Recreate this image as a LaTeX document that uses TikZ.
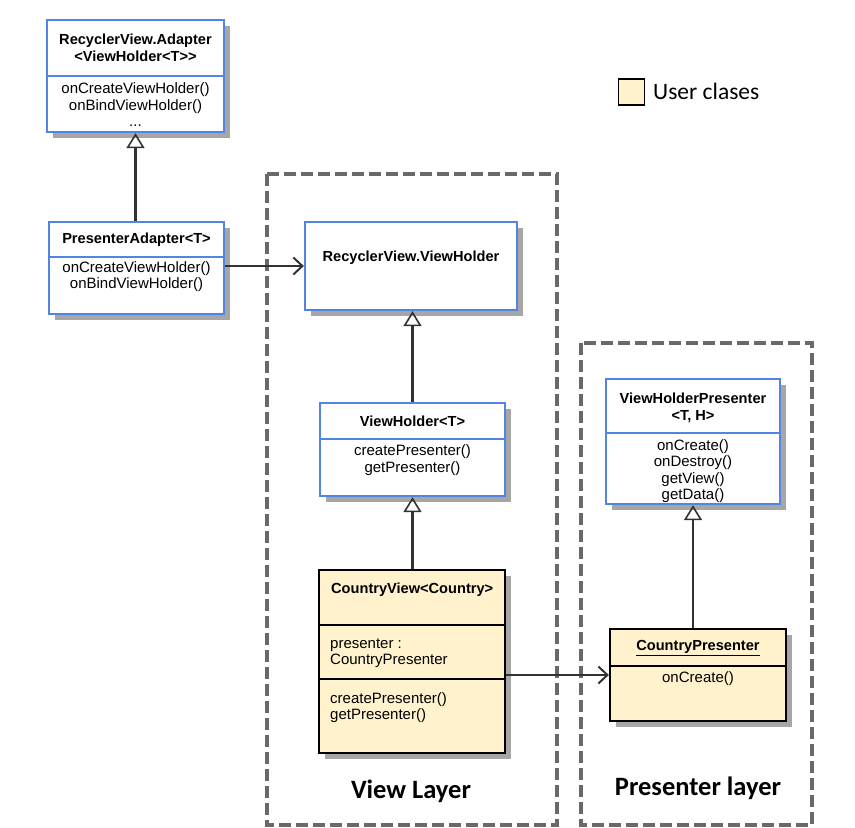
\documentclass[tikz,border=0pt]{standalone}
\usepackage{fontspec}
\setmainfont{Liberation Sans}
\newfontfamily\calibri{Carlito}
\usetikzlibrary{arrows.meta, shadows}
\definecolor{umlblue}{RGB}{82,132,228}
\definecolor{userfill}{RGB}{255,242,204}
\definecolor{framegray}{RGB}{105,105,105}
\definecolor{linegray}{RGB}{50,50,50}

\begin{document}
\begin{tikzpicture}
  [x=1pt, y=-1pt,
   cls/.style={rectangle, draw=umlblue, line width=2.3pt, fill=white, inner sep=0pt,
     drop shadow={shadow xshift=6pt, shadow yshift=-6pt, fill=black!35, opacity=1}},
   user/.style={cls, draw=black},
   sep/.style={draw=umlblue, line width=2.3pt},
   usersep/.style={sep, draw=black},
   title/.style={font=\fontsize{14.6}{16.5}\selectfont\bfseries, align=center, inner sep=0pt},
   ops/.style={font=\fontsize{15}{16.5}\selectfont, align=center, inner sep=0pt},
   layer/.style={draw=framegray, line width=3.5pt, dash pattern=on 12pt off 5pt},
   layername/.style={font=\calibri\fontsize{26.5}{30}\selectfont\bfseries},
   inherit/.style={draw=linegray, line width=2.3pt,
     -{Triangle[open, length=15pt, width=18pt, line width=1.6pt]}},
   assoc/.style={draw=linegray, line width=2.3pt,
     -{Straight Barb[length=9pt, width=17pt, line width=2pt]}}]
  \useasboundingbox (0,0) rectangle (855,828);

  % layers
  \draw[layer] (267,174) rectangle (557,825);
  \draw[layer] (581,343) rectangle (812,825);
  \node (viewLayer) at (411,791) [layername] {View Layer};
  \node (presLayer) at (698,788) [layername] {Presenter layer};

  % legend
  \node (legendBox) at (631.5,92) [draw=black, line width=1.5pt, fill=userfill,
    minimum width=26pt, minimum height=26pt] {};
  \node (legendText) at (653,91) [anchor=west, inner sep=0pt,
    font=\calibri\fontsize{23.5}{28}\selectfont] {User clases};

  % library classes
  \node (adapter) at (135.5,76) [cls, minimum width=177pt, minimum height=112pt] {};
  \node (adapterName) at (135.5,48) [title] {RecyclerView.Adapter\\<ViewHolder<T>\kern0pt>};
  \node (adapterOps) at (135.5,105) [ops] {onCreateViewHolder()\\onBindViewHolder()\\...};

  \node (presAdapter) at (136.5,268) [cls, minimum width=175pt, minimum height=92pt] {};
  \node (presAdapterName) at (136.5,240) [title] {PresenterAdapter<T>};
  \node (presAdapterOps) at (136.5,276.5) [ops] {onCreateViewHolder()\\onBindViewHolder()};

  \node (rvHolder) at (411,266) [cls, minimum width=212pt, minimum height=88pt] {};
  \node (rvHolderName) at (411,258) [title] {RecyclerView.ViewHolder};

  \node (vhT) at (412.5,449.5) [cls, minimum width=185pt, minimum height=93pt] {};
  \node (vhTName) at (412.5,421) [title] {ViewHolder<T>};
  \node (vhTOps) at (412.5,460) [ops] {createPresenter()\\getPresenter()};

  \node (vhPresenter) at (693,441.5) [cls, minimum width=174pt, minimum height=125pt] {};
  \node (vhPresenterName) at (693,408) [title] {ViewHolderPresenter\\<T, H>};
  \node (vhPresenterOps) at (693,471) [ops] {onCreate()\\onDestroy()\\getView()\\getData()};

  % user classes
  \node (countryView) at (412,661.5) [user, fill=userfill, minimum width=186pt, minimum height=183pt] {};
  \node (countryViewName) at (331,590) [title, anchor=west] {CountryView<Country>};
  \node (countryViewAttr) at (330,653) [ops, anchor=west, align=left] {presenter :\\CountryPresenter};
  \node (countryViewOps) at (330,707.5) [ops, anchor=west, align=left] {createPresenter()\\getPresenter()};

  \node (countryPresenter) at (698,675) [user, fill=userfill, minimum width=176pt, minimum height=92pt] {};
  \node (countryPresenterName) at (698,648) [title] {\underline{CountryPresenter}};
  \node (countryPresenterOps) at (698,679) [ops] {onCreate()};

  % compartments
  \foreach \n/\y in {adapter/76, presAdapter/257, vhT/439, vhPresenter/433}
    \draw[sep] (\n.west |- 0,\y) -- (\n.east |- 0,\y);
  \foreach \n/\y in {countryView/625, countryView/679, countryPresenter/666}
    \draw[usersep] (\n.west |- 0,\y) -- (\n.east |- 0,\y);

  % relations
  \draw[inherit] (presAdapter.north -| adapter.south) -- (adapter.south);
  \draw[inherit] (vhT.north) -- (vhT.north |- rvHolder.south);
  \draw[inherit] (countryView.north -| vhT.south) -- (vhT.south);
  \draw[inherit] (countryPresenter.north -| vhPresenter.south) -- (vhPresenter.south);
  \draw[assoc] (presAdapter.east |- rvHolder.west) -- (rvHolder.west);
  \draw[assoc] (countryView.east |- countryPresenter.west) -- (countryPresenter.west);
\end{tikzpicture}
\end{document}
